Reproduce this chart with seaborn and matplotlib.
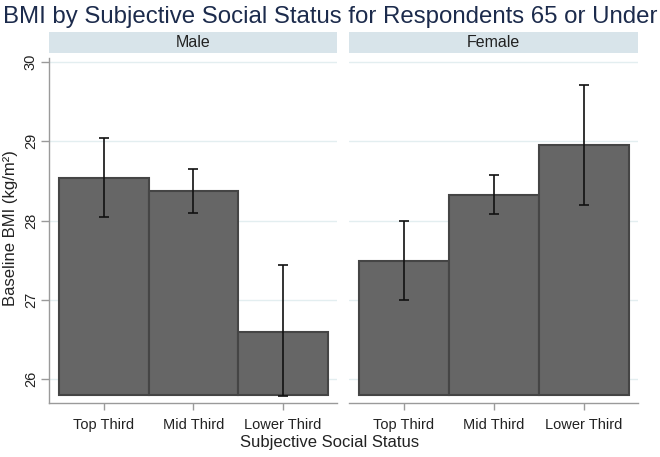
import matplotlib
matplotlib.use("Agg")
import matplotlib.pyplot as plt
import seaborn as sns
import pandas as pd

categories = ["Top Third", "Mid Third", "Lower Third"]
panels = ["Male", "Female"]
male_mean = [28.54, 28.37, 26.60]
male_lo = [28.05, 28.09, 25.79]
male_hi = [29.04, 28.65, 27.44]
female_mean = [27.49, 28.32, 28.95]
female_lo = [27.00, 28.08, 28.20]
female_hi = [28.00, 28.57, 29.71]
y_ticks = [26, 27, 28, 29, 30]
bar_base = 25.8

sns.set_theme(style="white")
plt.rcParams["font.family"] = ["Liberation Sans", "DejaVu Sans"]

fig = plt.figure(figsize=(6.6, 4.57), dpi=100)

title_color = "#1c2b4c"
fig.text(0.5, 0.962, "BMI by Subjective Social Status for Respondents 65 or Under",
         ha="center", va="center", fontsize=17.3, color=title_color)

axes_pos = [[49/660, 54/457, 288/660, 345/457],
            [349/660, 54/457, 289/660, 345/457]]
strip_pos = [[49/660, 404/457, 288/660, 21/457],
             [349/660, 404/457, 289/660, 21/457]]

data = {"Male": (male_mean, male_lo, male_hi), "Female": (female_mean, female_lo, female_hi)}
spine_col = "#9a9a9a"

for i, panel in enumerate(panels):
    mean, lo, hi = data[panel]
    df = pd.DataFrame({"status": categories, "bmi": mean})
    ax = fig.add_axes(axes_pos[i])
    ax.set_axisbelow(True)
    ax.yaxis.grid(True, color="#e3eef0", lw=1.0)
    sns.barplot(data=df, x="status", y="bmi", ax=ax, color="#666666",
                edgecolor="#454545", linewidth=1.5, width=1.0,
                errorbar=None, saturation=1, order=categories)
    for p in ax.patches:
        top = p.get_y() + p.get_height()
        p.set_y(bar_base)
        p.set_height(top - bar_base)
    xs = list(range(len(categories)))
    ax.errorbar(xs, mean, yerr=[[m - l for m, l in zip(mean, lo)],
                                [h - m for m, h in zip(mean, hi)]],
                fmt="none", ecolor="#111111", elinewidth=1.2, capsize=3.5,
                capthick=1.2, zorder=5)
    ax.set_ylim(25.70, 30.05)
    ax.set_xlim(-0.61, 2.6)
    ax.set_yticks(y_ticks)
    ax.set_xlabel("")
    ax.set_ylabel("")
    for s in ["top", "right"]:
        ax.spines[s].set_visible(False)
    ax.spines["bottom"].set_color(spine_col)
    ax.spines["bottom"].set_linewidth(1.0)
    ax.tick_params(axis="x", length=5, width=1, color=spine_col, labelsize=10.5,
                   labelcolor="#222222", pad=6, bottom=True)
    if i == 0:
        ax.spines["left"].set_color(spine_col)
        ax.spines["left"].set_linewidth(1.0)
        ax.tick_params(axis="y", length=6, width=1, color=spine_col, labelsize=10.5,
                       labelcolor="#222222", pad=2, left=True)
        for lab in ax.get_yticklabels():
            lab.set_rotation(90)
            lab.set_va("center")
    else:
        ax.spines["left"].set_visible(False)
        ax.tick_params(axis="y", left=False, labelleft=False)

    sax = fig.add_axes(strip_pos[i])
    sax.set_facecolor("#d8e4ea")
    sax.set_xticks([])
    sax.set_yticks([])
    for s in sax.spines.values():
        s.set_visible(False)
    sax.text(0.5, 0.5, panel, ha="center", va="center", fontsize=11.5, color="#222222",
             transform=sax.transAxes)

fig.text(0.5, 1 - 443/457, "Subjective Social Status", ha="center", va="center",
         fontsize=12, color="#222222")
fig.text(11/660, 1 - 228/457, "Baseline BMI (kg/m²)", ha="center", va="center",
         rotation=90, fontsize=12, color="#222222")

fig.savefig("out.png", dpi=100)
